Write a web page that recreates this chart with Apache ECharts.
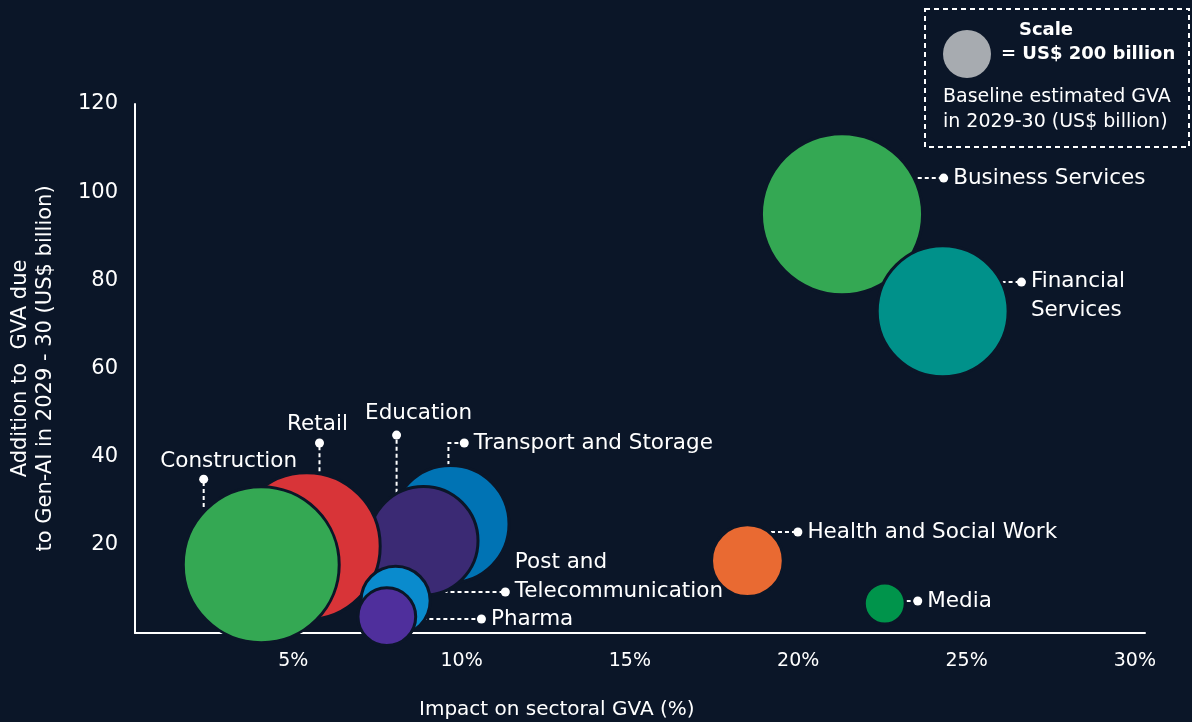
<!DOCTYPE html>
<html><head><meta charset="utf-8">
<script src="https://cdn.jsdelivr.net/npm/echarts@6/dist/echarts.min.js"></script>
<style>html,body{margin:0;padding:0;background:#0b1628;}#c{width:1192px;height:722px;}</style>
</head><body><div id="c"></div>
<script>
// ---- data ----
const sectors = ['Business Services','Financial Services','Transport and Storage','Education','Retail','Construction','Post and Telecommunication','Pharma','Health and Social Work','Media'];
const impactPct = [21.3, 24.29, 9.67, 8.87, 5.4, 4.05, 8.04, 7.78, 18.49, 22.57];
const gvaAddition = [95.0, 73.0, 24.7, 20.9, 19.7, 15.5, 7.3, 3.7, 16.4, 6.7];
const baselineGva = [2170, 1420, 1130, 975, 1800, 2030, 380, 260, 410, 125];
const labelTexts = ['Business Services','Financial\nServices','Transport and Storage','Education','Retail','Construction','Post and\nTelecommunication','Pharma','Health and Social Work','Media'];
// leader lines (data coordinates), last point = label dot
const leaderPaths = [
  [[23.55,103.2],[24.32,103.2]],
  [[26.04,79.6],[26.63,79.6]],
  [[9.61,38.1],[9.61,43.1],[10.08,43.1]],
  [[8.07,30.2],[8.07,44.9]],
  [[5.78,36.7],[5.78,43.1]],
  [[2.34,28.6],[2.34,34.9]],
  [[8.84,9.3],[11.30,9.3]],
  [[8.42,3.17],[10.59,3.17]],
  [[19.19,22.9],[19.99,22.9]],
  [[23.22,7.26],[23.55,7.26]]
];
const xTickValues = [5,10,15,20,25,30];
const yTickValues = [20,40,60,80,100,120];
const scaleValue = 200;

// ---- styles ----
const BG = '#0b1628';
const colors = ['#34a853','#00918a','#0073b4','#3b2a74','#d83438','#34a853','#0a8bcd','#4f2f9c','#e96a32','#00944b'];
const labelLayout = [
  {position:'right', distance:5},
  {position:'right', distance:5, offset:[0,14]},
  {position:'right', distance:5},
  {position:'top', distance:5.5, offset:[22,0], lineHeight:24},
  {position:'top', distance:2.5, offset:[-2,0], lineHeight:24},
  {position:'top', distance:1.5, offset:[25,0], lineHeight:24},
  {position:'right', distance:5, offset:[0,-15]},
  {position:'right', distance:5},
  {position:'right', distance:5},
  {position:'right', distance:5}
];
const FONT = 'DejaVu Sans';
const SCALE_DIAM = 48;
const BORDER = 3;
function bubbleDiameter(v){ return SCALE_DIAM*Math.sqrt(v/scaleValue); }

const bubbleData = sectors.map((s,i)=>({
  name:s, value:[impactPct[i], gvaAddition[i], baselineGva[i]],
  symbolSize: bubbleDiameter(baselineGva[i]) + BORDER,
  itemStyle:{color:colors[i]}
}));
const dotData = sectors.map((s,i)=>{
  const p = leaderPaths[i]; const end = p[p.length-1];
  return {name:s, value:end, label:Object.assign({show:true, formatter:labelTexts[i]}, labelLayout[i])};
});

const chart = echarts.init(document.getElementById('c'));
chart.setOption({
  backgroundColor: BG,
  animation:false,
  grid:{left:134, right:47, top:104, bottom:89},
  xAxis:{
    type:'value', min:0.3, max:30.3,
    axisLine:{show:true, lineStyle:{color:'#ffffff', width:2}},
    axisTick:{show:false}, splitLine:{show:false},
    axisLabel:{customValues:xTickValues, formatter:v=>v+'%', color:'#ffffff', fontFamily:FONT, fontSize:19, margin:19}
  },
  yAxis:{
    type:'value', min:0, max:120, interval:20,
    axisLine:{show:true, lineStyle:{color:'#ffffff', width:2}},
    axisTick:{show:false}, splitLine:{show:false},
    axisLabel:{customValues:yTickValues, color:'#ffffff', fontFamily:FONT, fontSize:21, margin:17},
    name:'Addition to  GVA due\nto Gen-AI in 2029 - 30 (US$ billion)',
    nameLocation:'middle', nameGap:77, nameRotate:90,
    nameTextStyle:{color:'#ffffff', fontFamily:FONT, fontSize:21, lineHeight:25, align:'center'}
  },
  series:[
    {type:'lines', coordinateSystem:'cartesian2d', polyline:true, silent:true, z:1,
     data: leaderPaths.map(p=>({coords:p})),
     lineStyle:{color:'#ffffff', width:2, type:[4,3], opacity:1}},
    {type:'scatter', z:2, silent:true, data:bubbleData,
     itemStyle:{borderColor:BG, borderWidth:BORDER, opacity:1}},
    {type:'scatter', z:3, silent:true, symbolSize:9, data:dotData,
     itemStyle:{color:'#ffffff', opacity:1},
     label:{color:'#ffffff', fontFamily:FONT, fontSize:21.5, lineHeight:29}}
  ],
  graphic:[
    {type:'rect', shape:{x:925, y:9, width:264, height:138}, style:{fill:null, stroke:'#ffffff', lineWidth:2, lineDash:[5,4]}},
    {type:'circle', shape:{cx:967, cy:54, r:bubbleDiameter(scaleValue)/2}, style:{fill:'#a7abb0'}},
    {type:'text', x:1046, y:30, style:{text:'Scale', fill:'#ffffff', font:'bold 18px "DejaVu Sans"', textAlign:'center', textVerticalAlign:'middle'}},
    {type:'text', x:1001, y:54, style:{text:'= US$ 200 billion', fill:'#ffffff', font:'bold 18px "DejaVu Sans"', textAlign:'left', textVerticalAlign:'middle'}},
    {type:'text', x:943, y:97, style:{text:'Baseline estimated GVA', fill:'#ffffff', font:'19px "DejaVu Sans"', textAlign:'left', textVerticalAlign:'middle'}},
    {type:'text', x:943, y:122, style:{text:'in 2029-30 (US$ billion)', fill:'#ffffff', font:'19px "DejaVu Sans"', textAlign:'left', textVerticalAlign:'middle'}},
    {type:'text', x:419, y:710, style:{text:'Impact on sectoral GVA (%)', fill:'#ffffff', font:'20px "DejaVu Sans"', textAlign:'left', textVerticalAlign:'middle'}}
  ]
});
</script></body></html>
